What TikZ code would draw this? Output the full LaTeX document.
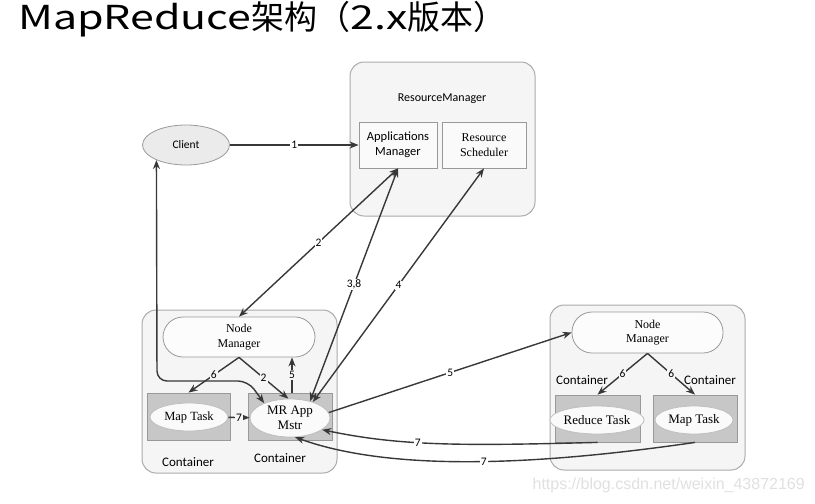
\documentclass[tikz,border=0pt]{standalone}
\usepackage{fontspec}
\setmainfont{Liberation Serif}
\setsansfont{Carlito}
\newfontfamily\cjk{Noto Sans CJK SC}
\newfontfamily\cjklat[FakeStretch=1.3]{Noto Sans CJK SC}
\newfontfamily\wmfont{Liberation Sans}
\usetikzlibrary{shapes.geometric,arrows.meta}

\begin{document}
\begin{tikzpicture}[x=1pt, y=-1pt,
  every node/.style={align=center, inner sep=0pt, font=\fontsize{12}{14.5}\selectfont},
  bigbox/.style={draw=black!33, fill=black!4, line width=1pt, rounded corners=14pt},
  inbox/.style={draw=black!40, fill=black!2, line width=0.8pt, minimum height=46pt},
  clientnode/.style={ellipse, draw=black!40, fill=black!8, line width=0.8pt, minimum width=87pt, minimum height=40pt, font=\sffamily\fontsize{11.5}{14}\selectfont},
  pill/.style={draw=black!40, fill=black!1, line width=0.8pt, rounded corners=20pt},
  ctr/.style={draw=black!40, fill=black!22, line width=0.8pt, minimum height=47pt},
  task/.style={ellipse, draw=black!25, fill=black!2, line width=0.8pt, font=\fontsize{12.5}{15}\selectfont},
  ctrlbl/.style={font=\sffamily\fontsize{13}{15}\selectfont},
  arr/.style={draw=black!78, line width=1.4pt, -{Stealth[length=9pt,width=7pt]}},
  arrboth/.style={draw=black!78, line width=1.4pt, {Stealth[length=9pt,width=7pt]}-{Stealth[length=9pt,width=7pt]}},
  lbl/.style={fill=white, inner sep=1pt, font=\sffamily\fontsize{11.5}{13}\selectfont},
  lblin/.style={lbl, fill=black!4}]

\useasboundingbox (0,0) rectangle (815,504);

\node[anchor=base west, font=\cjk\fontsize{33}{36}\selectfont] (title) at (18,29) {{\cjklat MapReduce}架构（{\cjklat 2.x}版本）};

\node[bigbox, minimum width=185pt, minimum height=154pt] (rm) at (442.5,139) {};
\node[font=\sffamily\fontsize{12}{14}\selectfont] (rmt) at (442,99) {ResourceManager};
\node[inbox, minimum width=78pt, font=\sffamily\fontsize{12.5}{15}\selectfont] (am) at (398,145) {Applications\\Manager};
\node[inbox, minimum width=84pt] (rs) at (484,145) {Resource\\Scheduler};
\node[clientnode] (cl) at (186,145) {Client};

\node[bigbox, minimum width=195pt, minimum height=163pt] (lc) at (239.5,391.5) {};
\node[pill, minimum width=152pt, minimum height=40pt] (nm1) at (239,337) {Node\\Manager};
\node[ctr, minimum width=83pt] (c1) at (188.5,416.5) {};
\node[task, minimum width=78pt, minimum height=28pt] (mt1) at (189,417) {Map Task};
\node[ctr, minimum width=84pt] (c2) at (290,416.5) {};
\node[task, minimum width=80pt, minimum height=38pt, font=\fontsize{13}{15}\selectfont] (mr) at (290,418) {MR App\\Mstr};
\node[ctrlbl] (cl1) at (188,462) {Container};
\node[ctrlbl] (cl2) at (280,458) {Container};

\node[bigbox, minimum width=195pt, minimum height=165pt] (rc) at (647.5,387.5) {};
\node[pill, minimum width=151pt, minimum height=41pt] (nm2) at (647.5,332.5) {Node\\Manager};
\node[ctr, minimum width=85pt] (c3) at (597.5,418.5) {};
\node[task, minimum width=75pt, minimum height=28pt, font=\fontsize{13}{15}\selectfont] (rt) at (597,420) {Reduce Task};
\node[ctr, minimum width=84pt] (c4) at (695,418.5) {};
\node[task, minimum width=78pt, minimum height=28pt, font=\fontsize{13}{15}\selectfont] (mt2) at (694,420) {Map Task};
\node[ctrlbl] (cl3) at (582,380) {Container};
\node[ctrlbl] (cl4) at (710,380) {Container};

\draw[arr] (cl) -- node[lbl] {1} (am);
\draw[arrboth] (am.south) -- node[lbl] {2} (nm1.north);
\draw[arrboth] (mr.40) -- node[lbl] {3,8} (am.south);
\draw[arrboth] (mr.35) -- node[lbl] {4} (rs.south);
\draw[arr] (mr.8) -- node[lbl] {5} (nm2.west);

\draw[arr] (nm1.south) -- node[lblin] {6} (c1.north);
\draw[arr] (nm1.south) -- node[lblin] {2} (mr.95);
\draw[arr] ([xshift=2pt]c2.north) -- node[lblin] {5} ([xshift=2pt]c2.north |- nm1.south);
\draw[arr] (mt1) -- node[lblin] {7} (mr);
\draw[arrboth, rounded corners=10pt] (cl.-153) -- (157,381) -- (248,381) -- (mr.150);

\draw[arr] (nm2.south) -- node[lblin] {6} (c3.north);
\draw[arr] (nm2.south) -- node[lblin] {6} (c4.north);

\draw[arr] (c3.south) .. controls (460,446) and (400,446) .. node[lbl, pos=0.58] {7} (mr.-20);
\draw[arr] (c4.south) .. controls (560,462) and (400,475) .. node[lbl, pos=0.5] {7} (mr.-75);

\node[anchor=east, text=black!12, font=\wmfont\fontsize{16}{18}\selectfont] (wm) at (805,485) {https://blog.csdn.net/weixin\_43872169};
\end{tikzpicture}
\end{document}
